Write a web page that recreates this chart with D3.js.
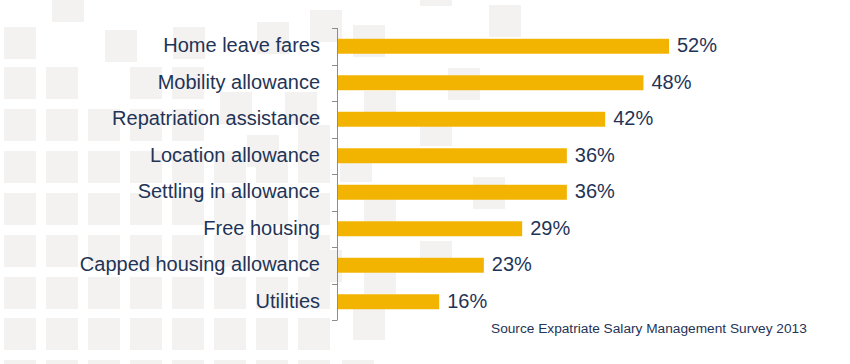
<!DOCTYPE html>
<html>
<head>
<meta charset="utf-8">
<script src="https://cdn.jsdelivr.net/npm/d3@7"></script>
<style>
  html, body { margin: 0; padding: 0; background: #ffffff; }
  svg { display: block; font-family: "Liberation Sans", Arial, sans-serif; }
</style>
</head>
<body>
<svg id="chart" width="850" height="364"></svg>
<script>
// ---- Data ----
const categories = [
  "Home leave fares",
  "Mobility allowance",
  "Repatriation assistance",
  "Location allowance",
  "Settling in allowance",
  "Free housing",
  "Capped housing allowance",
  "Utilities"
];
const values = [52, 48, 42, 36, 36, 29, 23, 16];
const valueLabels = ["52%", "48%", "42%", "36%", "36%", "29%", "23%", "16%"];
const sourceNote = "Source Expatriate Salary Management Survey 2013";

// ---- Decorative background squares (top-left corners) ----
const gridCols = [0, 1, 2, 3, 4, 5, 6, 7];
const fullRows = [151, 193, 235, 277, 318, 360];
const extraSquares = [
  [4, 109], [46, 109], [88, 109], [130, 109], [172, 109], [247, 135], [298, 125],
  [4, 67], [46, 67], [130, 67], [172, 67], [220, 92], [285, 92],
  [4, 27], [105, 30], [173, 27], [257, 22], [310, 10], [52, -10],
  [353, 25], [420, -26], [489, 5], [448, 68], [364, 91], [420, 114],
  [340, 150], [473, 177], [364, 190], [420, 241], [364, 262], [353, 308],
  [310, 250], [342, 360]
];

const svg = d3.select("#chart");

const bgSquares = [];
fullRows.forEach(r => gridCols.forEach(c => bgSquares.push([4 + 42 * c, r])));
extraSquares.forEach(s => bgSquares.push(s));

svg.append("g").selectAll("rect").data(bgSquares).join("rect")
  .attr("x", d => d[0]).attr("y", d => d[1])
  .attr("width", 32).attr("height", 32)
  .attr("fill", "#f3f2f1");

// ---- Scales ----
const x0 = 337;
const x = d3.scaleLinear().domain([0, d3.max(values)]).range([x0, 669]);
const y = d3.scaleBand().domain(categories).range([28, 320])
  .paddingInner(0.59).paddingOuter(0.295);

const textColor = "#1f3456";

// ---- Bars ----
svg.append("g").selectAll("rect").data(values).join("rect")
  .attr("x", x(0) + 1)
  .attr("y", (d, i) => y(categories[i]))
  .attr("width", d => x(d) - x(0) - 1)
  .attr("height", y.bandwidth())
  .attr("fill", "#f2b400");

// ---- Axis line with ticks at band boundaries ----
const step = y.step();
const r0 = y.range()[0], r1 = y.range()[1];
const ax = svg.append("g").attr("stroke", "#8c8c8c").attr("stroke-width", 1);
ax.append("line").attr("x1", x0 + 0.5).attr("x2", x0 + 0.5).attr("y1", r0).attr("y2", r1);
d3.range(categories.length + 1).forEach(i => {
  const yy = Math.round(r0 + i * step) + 0.5;
  ax.append("line").attr("x1", x0 - 5).attr("x2", x0 + 0.5).attr("y1", yy).attr("y2", yy);
});

// ---- Category labels ----
svg.append("g").selectAll("text").data(categories).join("text")
  .attr("x", 320)
  .attr("y", d => y(d) + y.bandwidth() / 2 - 1)
  .attr("dy", "0.35em")
  .attr("text-anchor", "end")
  .attr("font-size", 20)
  .attr("fill", textColor)
  .text(d => d);

// ---- Value labels ----
svg.append("g").selectAll("text").data(values).join("text")
  .attr("x", d => x(d) + 8)
  .attr("y", (d, i) => y(categories[i]) + y.bandwidth() / 2 - 1)
  .attr("dy", "0.35em")
  .attr("font-size", 20)
  .attr("fill", textColor)
  .text((d, i) => valueLabels[i]);

// ---- Source note ----
svg.append("text")
  .attr("x", 491).attr("y", 333)
  .attr("font-size", 13.7)
  .attr("fill", textColor)
  .text(sourceNote);
</script>
</body>
</html>
